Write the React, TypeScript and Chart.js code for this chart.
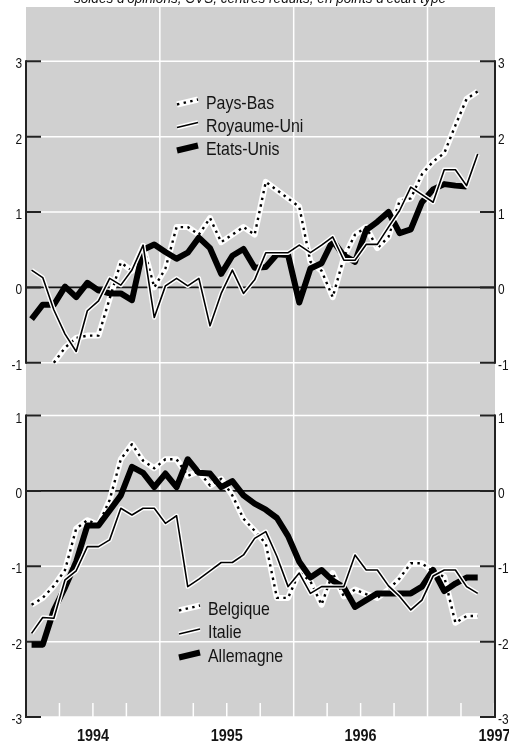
import React, { useEffect, useRef } from "react";
import { Chart, registerables } from "chart.js";

Chart.register(...registerables);

// ---- data ----
const MONTHS = [
  "1994-01","1994-02","1994-03","1994-04","1994-05","1994-06","1994-07","1994-08","1994-09","1994-10","1994-11","1994-12",
  "1995-01","1995-02","1995-03","1995-04","1995-05","1995-06","1995-07","1995-08","1995-09","1995-10","1995-11","1995-12",
  "1996-01","1996-02","1996-03","1996-04","1996-05","1996-06","1996-07","1996-08","1996-09","1996-10","1996-11","1996-12",
  "1997-01","1997-02","1997-03","1997-04","1997-05",
];

const PAYS_BAS = [
  null, null, -1.0, -0.8, -0.67, -0.64, -0.64, -0.15, 0.33, 0.22, 0.55, 0.0,
  0.25, 0.8, 0.8, 0.7, 0.92, 0.6, 0.7, 0.8, 0.7, 1.4, 1.29, 1.18,
  1.07, 0.34, 0.22, -0.13, 0.4, 0.7, 0.8, 0.52, 0.67, 1.15, 1.18, 1.5,
  1.67, 1.78, 2.15, 2.5, 2.6,
];
const ROYAUME_UNI = [
  0.23, 0.13, -0.3, -0.62, -0.85, -0.31, -0.18, 0.12, 0.03, 0.23, 0.56, -0.4,
  0.02, 0.12, 0.02, 0.12, -0.51, -0.08, 0.23, -0.08, 0.1, 0.46, 0.46, 0.46,
  0.56, 0.46, 0.56, 0.67, 0.36, 0.36, 0.57, 0.57, 0.8, 1.02, 1.33, 1.23,
  1.13, 1.56, 1.56, 1.35, 1.77,
];
const ETATS_UNIS = [
  -0.42, -0.23, -0.23, 0.01, -0.13, 0.06, -0.04, -0.08, -0.08, -0.17, 0.5, 0.57,
  0.47, 0.38, 0.46, 0.66, 0.52, 0.18, 0.42, 0.51, 0.26, 0.27, 0.44, 0.43,
  -0.2, 0.25, 0.32, 0.62, 0.42, 0.34, 0.76, 0.87, 1.0, 0.72, 0.77, 1.13,
  1.3, 1.37, 1.35, 1.34, null,
];

const BELGIQUE = [
  -1.51, -1.42, -1.26, -1.05, -0.5, -0.39, -0.45, -0.12, 0.42, 0.62, 0.4, 0.3,
  0.42, 0.42, 0.2, 0.26, 0.07, 0.16, -0.06, -0.37, -0.53, -0.7, -1.42, -1.42,
  -1.08, -1.2, -1.51, -1.09, -1.4, -1.31, -1.37, -1.42, -1.31, -1.16, -0.96, -0.96,
  -1.07, -1.14, -1.75, -1.66, -1.66,
];
const ITALIE = [
  -1.89, -1.68, -1.69, -1.18, -1.06, -0.74, -0.74, -0.65, -0.23, -0.32, -0.23, -0.23,
  -0.43, -0.33, -1.27, -1.17, -1.06, -0.95, -0.95, -0.85, -0.63, -0.54, -0.87, -1.27,
  -1.09, -1.36, -1.27, -1.27, -1.27, -0.85, -1.05, -1.05, -1.26, -1.4, -1.58, -1.45,
  -1.13, -1.05, -1.05, -1.27, -1.36,
];
const ALLEMAGNE = [
  -2.04, -2.04, -1.58, -1.28, -0.94, -0.46, -0.46, -0.26, -0.06, 0.32, 0.24, 0.05,
  0.23, 0.05, 0.42, 0.24, 0.23, 0.05, 0.13, -0.06, -0.17, -0.25, -0.36, -0.6,
  -0.94, -1.15, -1.05, -1.19, -1.28, -1.54, -1.45, -1.36, -1.36, -1.36, -1.36, -1.27,
  -1.05, -1.33, -1.23, -1.15, -1.15,
];

const YEAR_LABELS = ["1994", "1995", "1996", "1997"];
const TOP_TICKS = [3, 2, 1, 0, -1];
const BOTTOM_TICKS = [1, 0, -1, -2, -3];
const TOP_LEGEND = ["Pays-Bas", "Royaume-Uni", "Etats-Unis"];
const BOTTOM_LEGEND = ["Belgique", "Italie", "Allemagne"];
const TITLE = "soldes d'opinions, CVS, centrés réduits, en points d'écart type";

// ---- layout / style ----
const W = 509;
const H = 742;
const X_MAX = 42.05;
const GRAY = "#d0d0d0";
const INK = "#141414";
const FONT = '"Liberation Sans", Arial, sans-serif';

const pts = (vals: (number | null)[]) =>
  vals.map((v, i) => ({ x: MONTHS.indexOf(MONTHS[i]) + 0.5, y: v }));

type Style = "dotted" | "thin" | "thick";

function seriesDatasets(label: string, vals: (number | null)[], yAxisID: string, style: Style) {
  const base = {
    data: pts(vals),
    yAxisID,
    xAxisID: "x",
    pointRadius: 0,
    tension: 0,
    fill: false,
    borderJoinStyle: "round" as const,
    borderCapStyle: "butt" as const,
  };
  if (style === "dotted") {
    return [
      { ...base, label, borderColor: "#ffffff", borderWidth: 6, order: 10 },
      { ...base, label: label + " ·", borderColor: "#000000", borderWidth: 2.4, borderDash: [2.4, 4.4], order: 9 },
    ];
  }
  if (style === "thick") {
    return [{ ...base, label, borderColor: "#000000", borderWidth: 6, order: 8 }];
  }
  return [
    { ...base, label: label + " halo", borderColor: "#ffffff", borderWidth: 4.4, order: 7 },
    { ...base, label, borderColor: "#000000", borderWidth: 1.6, order: 6 },
  ];
}

function drawLegendSymbol(ctx: CanvasRenderingContext2D, style: Style, x1: number, x2: number, cy: number) {
  const y1 = cy + 2.5;
  const y2 = cy - 2.5;
  const seg = (color: string, w: number, dash: number[] = []) => {
    ctx.save();
    ctx.strokeStyle = color;
    ctx.lineWidth = w;
    ctx.lineCap = "butt";
    ctx.setLineDash(dash);
    ctx.beginPath();
    ctx.moveTo(x1, y1);
    ctx.lineTo(x2, y2);
    ctx.stroke();
    ctx.restore();
  };
  if (style === "dotted") {
    seg("#ffffff", 6);
    seg("#000000", 2.4, [2.4, 4.4]);
  } else if (style === "thin") {
    seg("#ffffff", 4.4);
    seg("#000000", 1.6);
  } else {
    seg("#000000", 6);
  }
}

// condensed text: real text, drawn with a horizontal squeeze
function text(
  ctx: CanvasRenderingContext2D,
  s: string,
  x: number,
  y: number,
  align: CanvasTextAlign,
  sx: number
) {
  ctx.save();
  ctx.translate(x, y);
  ctx.scale(sx, 1);
  ctx.textAlign = align;
  ctx.textBaseline = "alphabetic";
  ctx.fillText(s, 0, 0);
  ctx.restore();
}

const STYLES: Style[] = ["dotted", "thin", "thick"];

const decor = {
  id: "decor",
  beforeDatasetsDraw(chart: any) {
    const { ctx, chartArea: a, scales } = chart;
    const xs = scales.x;
    const panels = [
      { s: scales.yTop, ticks: TOP_TICKS },
      { s: scales.yBot, ticks: BOTTOM_TICKS },
    ];
    ctx.save();
    ctx.fillStyle = GRAY;
    ctx.fillRect(a.left, a.top, a.right - a.left, a.bottom - a.top);

    const hline = (y: number) => {
      ctx.beginPath();
      ctx.moveTo(a.left, y);
      ctx.lineTo(a.right, y);
      ctx.stroke();
    };
    ctx.strokeStyle = "#ffffff";
    ctx.lineWidth = 1.5;
    panels.forEach(({ s, ticks }) =>
      ticks.forEach((v) => {
        if (v !== 0) hline(s.getPixelForValue(v));
      })
    );
    for (let m = 3; m < X_MAX; m += 3) {
      const px = xs.getPixelForValue(m);
      ctx.beginPath();
      ctx.moveTo(px, m % 12 === 0 ? a.top : a.bottom - 14);
      ctx.lineTo(px, a.bottom);
      ctx.stroke();
    }
    ctx.strokeStyle = INK;
    ctx.lineWidth = 1.6;
    panels.forEach(({ s }) => hline(s.getPixelForValue(0)));

    ctx.strokeStyle = "#222222";
    ctx.lineWidth = 2;
    panels.forEach(({ s, ticks }) => {
      const yTop = s.getPixelForValue(Math.max(...ticks));
      const yBot = s.getPixelForValue(Math.min(...ticks));
      [a.left, a.right].forEach((xx) => {
        ctx.beginPath();
        ctx.moveTo(xx, yTop - 1);
        ctx.lineTo(xx, yBot + 1);
        ctx.stroke();
      });
      ticks.forEach((v) => {
        const y = s.getPixelForValue(v);
        ctx.beginPath();
        ctx.moveTo(a.left, y);
        ctx.lineTo(a.left + 15, y);
        ctx.moveTo(a.right - 15, y);
        ctx.lineTo(a.right, y);
        ctx.stroke();
      });
    });
    ctx.restore();
  },
  afterDraw(chart: any) {
    const { ctx, chartArea: a, scales } = chart;
    ctx.save();
    ctx.fillStyle = INK;
    ctx.font = `14px ${FONT}`;
    [
      { s: scales.yTop, ticks: TOP_TICKS },
      { s: scales.yBot, ticks: BOTTOM_TICKS },
    ].forEach(({ s, ticks }) => {
      ticks.forEach((v) => {
        const y = s.getPixelForValue(v) + 7;
        text(ctx, String(v), a.left - 4, y, "right", 0.85);
        text(ctx, String(v), a.right + 3, y, "left", 0.85);
      });
    });
    ctx.font = `bold 16px ${FONT}`;
    YEAR_LABELS.forEach((lab, k) => {
      text(ctx, lab, scales.x.getPixelForValue(6 + 12 * k), 741, "center", 0.9);
    });
    ctx.font = `italic 14px ${FONT}`;
    text(ctx, TITLE, 260, 2.5, "center", 0.97);

    ctx.font = `18.5px ${FONT}`;
    const tops = [102, 125, 148];
    TOP_LEGEND.forEach((name, k) => {
      drawLegendSymbol(ctx, STYLES[k], 177, 198, tops[k]);
      ctx.fillStyle = INK;
      text(ctx, name, 206, tops[k] + 6.7, "left", 0.86);
    });
    const bots = [608, 631.5, 655];
    BOTTOM_LEGEND.forEach((name, k) => {
      drawLegendSymbol(ctx, STYLES[k], 179, 200, bots[k]);
      ctx.fillStyle = INK;
      text(ctx, name, 208, bots[k] + 6.7, "left", 0.86);
    });
    ctx.restore();
  },
};

export default function App() {
  const ref = useRef<HTMLCanvasElement | null>(null);
  useEffect(() => {
    if (!ref.current) return;
    const datasets = [
      ...seriesDatasets(TOP_LEGEND[0], PAYS_BAS, "yTop", "dotted"),
      ...seriesDatasets(TOP_LEGEND[1], ROYAUME_UNI, "yTop", "thin"),
      ...seriesDatasets(TOP_LEGEND[2], ETATS_UNIS, "yTop", "thick"),
      ...seriesDatasets(BOTTOM_LEGEND[0], BELGIQUE, "yBot", "dotted"),
      ...seriesDatasets(BOTTOM_LEGEND[1], ITALIE, "yBot", "thin"),
      ...seriesDatasets(BOTTOM_LEGEND[2], ALLEMAGNE, "yBot", "thick"),
    ];
    const chart = new Chart(ref.current, {
      type: "line",
      data: { datasets } as any,
      options: {
        responsive: false,
        animation: false,
        devicePixelRatio: 1,
        events: [],
        layout: { padding: { left: 26, right: 14, top: 7, bottom: 25 } },
        plugins: {
          legend: { display: false },
          tooltip: { enabled: false },
          title: { display: false },
        },
        scales: {
          x: { type: "linear", min: 0, max: X_MAX, display: false },
          y: { type: "linear", display: false },
          yTop: { type: "linear", min: -5.7, max: 3.72, display: false },
          yBot: { type: "linear", min: -3, max: 6.42, display: false },
        },
      } as any,
      plugins: [decor],
    });
    return () => chart.destroy();
  }, []);
  return (
    <div style={{ position: "absolute", left: 0, top: 0, width: W, height: H, background: "#fff" }}>
      <canvas ref={ref} width={W} height={H} style={{ display: "block" }} />
    </div>
  );
}
